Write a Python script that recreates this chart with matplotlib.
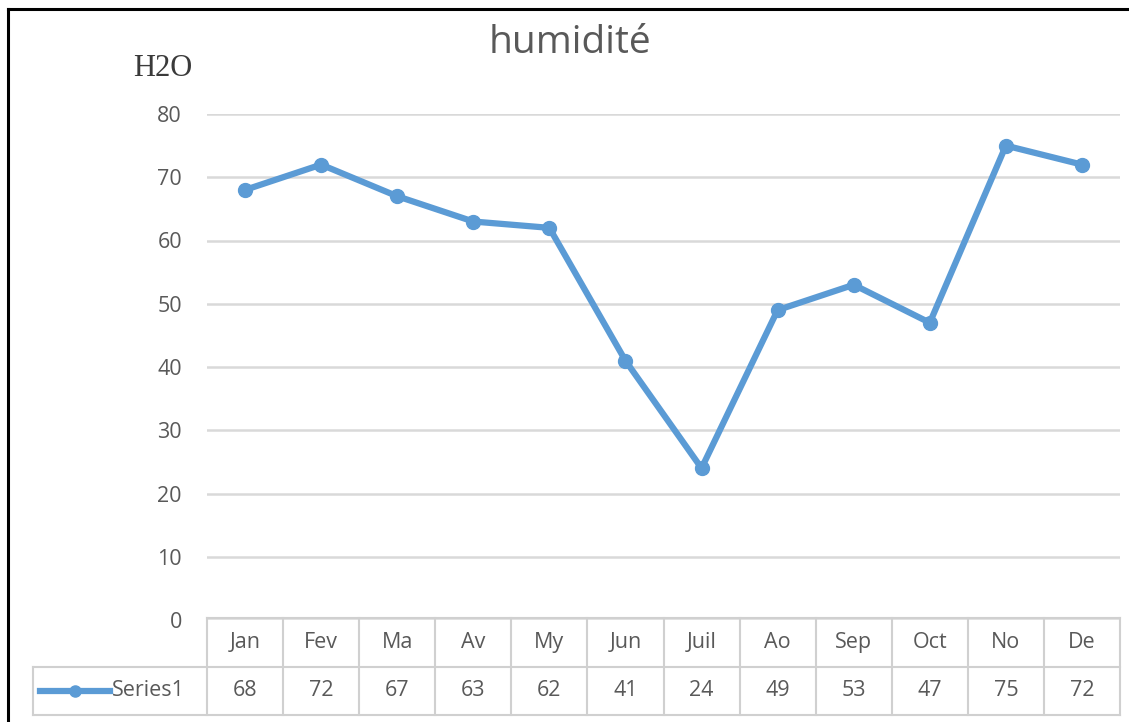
import matplotlib
matplotlib.use("Agg")
import matplotlib.pyplot as plt
from matplotlib.lines import Line2D

# Monthly humidity readings
months = ["Jan", "Fev", "Ma", "Av", "My", "Jun", "Juil", "Ao", "Sep", "Oct", "No", "De"]
humidity = [68, 72, 67, 63, 62, 41, 24, 49, 53, 47, 75, 72]
series_name = "Series1"
y_ticks = [0, 10, 20, 30, 40, 50, 60, 70, 80]

W, H = 1129, 722
LINE_COLOR = "#5B9BD5"
TEXT_COLOR = "#595959"
GRID_COLOR = "#D9D9D9"
FONT = ["Open Sans", "DejaVu Sans"]
FS = 15.5

fig = plt.figure(figsize=(W / 100, H / 100), dpi=100)
fig.patch.set_facecolor("white")

# pixel layout of the plot area
px_left, px_right = 207, 1120
px_top, px_bottom = 114, 620
ax = fig.add_axes([px_left / W, 1 - px_bottom / H,
                   (px_right - px_left) / W, (px_bottom - px_top) / H])
x = list(range(len(months)))
ax.plot(x, humidity, color=LINE_COLOR, linewidth=4.5, marker="o",
        markersize=10, solid_capstyle="round", solid_joinstyle="round", zorder=3)
ax.set_xlim(-0.5, len(months) - 0.5)
ax.set_ylim(0, 80)
ax.set_yticks(y_ticks)
ax.set_yticklabels([str(v) for v in y_ticks], fontsize=FS, color=TEXT_COLOR,
                   family=FONT)
ax.set_xticks([])
ax.tick_params(axis="y", length=0, pad=18)
ax.grid(axis="y", color=GRID_COLOR, linewidth=1.8)
ax.set_axisbelow(True)
for s in ax.spines.values():
    s.set_visible(False)

# data table below the plot
tb_left, tb_top, tb_bottom = 33, 618, 715
col_w = (px_right - px_left) / len(months)
x0 = -0.5 - (px_left - tb_left) / col_w
axt = fig.add_axes([tb_left / W, 1 - tb_bottom / H,
                    (px_right - tb_left) / W, (tb_bottom - tb_top) / H])
axt.set_xlim(x0, len(months) - 0.5)
axt.set_ylim(0, 2)
axt.axis("off")
TABLE_LINE = "#D0D0D0"
lw = 1.5
axt.plot([-0.5, len(months) - 0.5], [2, 2], color=TABLE_LINE, lw=lw, clip_on=False)
axt.plot([x0, len(months) - 0.5], [1, 1], color=TABLE_LINE, lw=lw, clip_on=False)
axt.plot([x0, len(months) - 0.5], [0, 0], color=TABLE_LINE, lw=lw, clip_on=False)
axt.plot([x0, x0], [0, 1], color=TABLE_LINE, lw=lw, clip_on=False)
for k in range(len(months) + 1):
    axt.plot([k - 0.5, k - 0.5], [0, 2], color=TABLE_LINE, lw=lw, clip_on=False)
for i, (m, v) in enumerate(zip(months, humidity)):
    axt.text(i, 1.5, m, ha="center", va="center", fontsize=FS,
             color=TEXT_COLOR, family=FONT)
    axt.text(i, 0.5, str(v), ha="center", va="center", fontsize=FS,
             color=TEXT_COLOR, family=FONT)

# legend key inside the first cell
key_x0 = x0 + (40 - tb_left) / col_w
key_x1 = x0 + (110 - tb_left) / col_w
axt.plot([key_x0, key_x1], [0.5, 0.5], color=LINE_COLOR, lw=4.5, clip_on=False)
axt.plot([(key_x0 + key_x1) / 2], [0.5], marker="o", markersize=8,
         color=LINE_COLOR, clip_on=False)
axt.text(x0 + (112 - tb_left) / col_w, 0.5, series_name, ha="left", va="center",
         fontsize=FS, color=TEXT_COLOR, family=FONT)

# titles
fig.text(570 / W, 1 - 43 / H, "humidité", ha="center", va="center",
         fontsize=28, color=TEXT_COLOR, family=FONT)
fig.text(163 / W, 1 - 69 / H, "H2O", ha="center", va="center",
         fontsize=22, color="#3A3A3A", family=["Liberation Serif", "DejaVu Serif"])

# frame lines along the top and left edges
fig.add_artist(Line2D([8 / W, 8 / W], [0, 1 - 9 / H], color="black", lw=2.2,
                      transform=fig.transFigure))
fig.add_artist(Line2D([8 / W, 1], [1 - 9 / H, 1 - 9 / H], color="black", lw=2.2,
                      transform=fig.transFigure))

fig.savefig("out.png", dpi=100)
